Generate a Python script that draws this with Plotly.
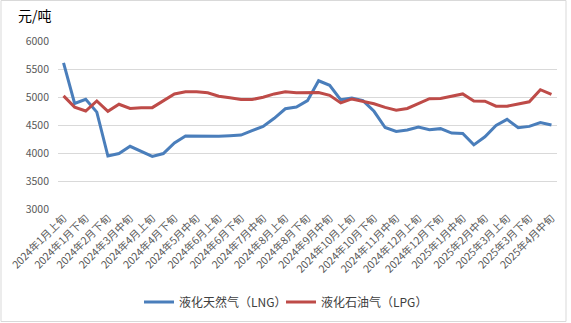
import plotly.graph_objects as go

# Ten-day periods (上旬/中旬/下旬), Jan 2024 – mid Apr 2025
periods = [
    "2024年1月上旬", "2024年1月中旬", "2024年1月下旬", "2024年2月上旬", "2024年2月下旬",
    "2024年3月上旬", "2024年3月中旬", "2024年3月下旬", "2024年4月上旬", "2024年4月中旬",
    "2024年4月下旬", "2024年5月上旬", "2024年5月中旬", "2024年5月下旬", "2024年6月上旬",
    "2024年6月中旬", "2024年6月下旬", "2024年7月上旬", "2024年7月中旬", "2024年7月下旬",
    "2024年8月上旬", "2024年8月中旬", "2024年8月下旬", "2024年9月上旬", "2024年9月中旬",
    "2024年9月下旬", "2024年10月上旬", "2024年10月中旬", "2024年10月下旬", "2024年11月上旬",
    "2024年11月中旬", "2024年11月下旬", "2024年12月上旬", "2024年12月中旬", "2024年12月下旬",
    "2025年1月上旬", "2025年1月中旬", "2025年1月下旬", "2025年2月中旬", "2025年2月下旬",
    "2025年3月上旬", "2025年3月中旬", "2025年3月下旬", "2025年4月上旬", "2025年4月中旬",
]

# 液化天然气 (LNG) price, 元/吨
lng = [
    5610, 4885, 4960, 4730, 3945, 3990, 4120, 4030, 3940, 3990,
    4180, 4305, 4300, 4300, 4300, 4310, 4320, 4400, 4475, 4620,
    4790, 4820, 4935, 5290, 5210, 4950, 4980, 4935, 4745, 4455,
    4385, 4410, 4465, 4415, 4435, 4355, 4350, 4145, 4290, 4490,
    4600, 4450, 4475, 4545, 4500,
]

# 液化石油气 (LPG) price, 元/吨
lpg = [
    5020, 4820, 4750, 4930, 4745, 4870, 4795, 4810, 4810, 4940,
    5055, 5095, 5095, 5075, 5015, 4985, 4955, 4955, 4995, 5055,
    5095, 5075, 5080, 5080, 5030, 4895, 4965, 4925, 4880, 4815,
    4765, 4795, 4880, 4970, 4975, 5010, 5055, 4930, 4925, 4835,
    4835, 4875, 4915, 5130, 5045,
]

y_ticks = [3000, 3500, 4000, 4500, 5000, 5500, 6000]

W, H = 571, 323
ML, MR, MT, MB = 58, 14, 41, 114
PW, PH = W - ML - MR, H - MT - MB

fig = go.Figure()
fig.add_trace(go.Scatter(
    x=periods, y=lng, mode="lines", name="液化天然气（LNG）",
    line=dict(color="#4A7EBB", width=3),
))
fig.add_trace(go.Scatter(
    x=periods, y=lpg, mode="lines", name="液化石油气（LPG）",
    line=dict(color="#BE4B48", width=3),
))

font_family = "Microsoft YaHei, Noto Sans CJK SC, sans-serif"


def px_x(px):
    return (px - ML) / PW


def px_y(py):
    return (H - MB - py) / PH


fig.update_layout(
    width=W, height=H,
    margin=dict(l=ML, r=MR, t=MT, b=MB, autoexpand=False),
    paper_bgcolor="white", plot_bgcolor="white",
    font=dict(family=font_family, color="#595959", size=10),
    showlegend=True,
    legend=dict(
        orientation="h",
        xref="container", x=281 / W, xanchor="center",
        yref="container", y=(H - 302) / H, yanchor="middle",
        font=dict(size=12, color="#404040"),
        itemwidth=30, tracegroupgap=0,
        entrywidth=97, entrywidthmode="pixels",
        bgcolor="rgba(0,0,0,0)",
    ),
    annotations=[dict(
        text="元/吨", xref="paper", yref="paper",
        x=px_x(16), y=px_y(15), xanchor="left", yanchor="middle",
        showarrow=False, font=dict(size=14, color="#000000"),
    )],
    shapes=[dict(
        type="rect", xref="paper", yref="paper",
        x0=px_x(1), x1=px_x(566), y0=px_y(321.5), y1=px_y(0.5),
        line=dict(color="#D9D9D9", width=1), fillcolor="rgba(0,0,0,0)",
        layer="below",
    )],
)

fig.update_xaxes(
    type="category", automargin=False,
    tickmode="array", tickvals=periods[::2], ticktext=periods[::2],
    tickangle=-45, tickfont=dict(size=10.5, color="#595959"),
    showgrid=False, showline=False, zeroline=False, ticks="",
    range=[-0.5, len(periods) - 0.5],
)
fig.update_yaxes(
    range=[3000, 6000], tickvals=y_ticks, automargin=False,
    tickfont=dict(size=10.5, color="#595959"),
    showgrid=True, gridcolor="#D9D9D9", gridwidth=1,
    zeroline=False, showline=False, ticks="", ticklabelstandoff=8,
)

fig.write_html("out.html")
